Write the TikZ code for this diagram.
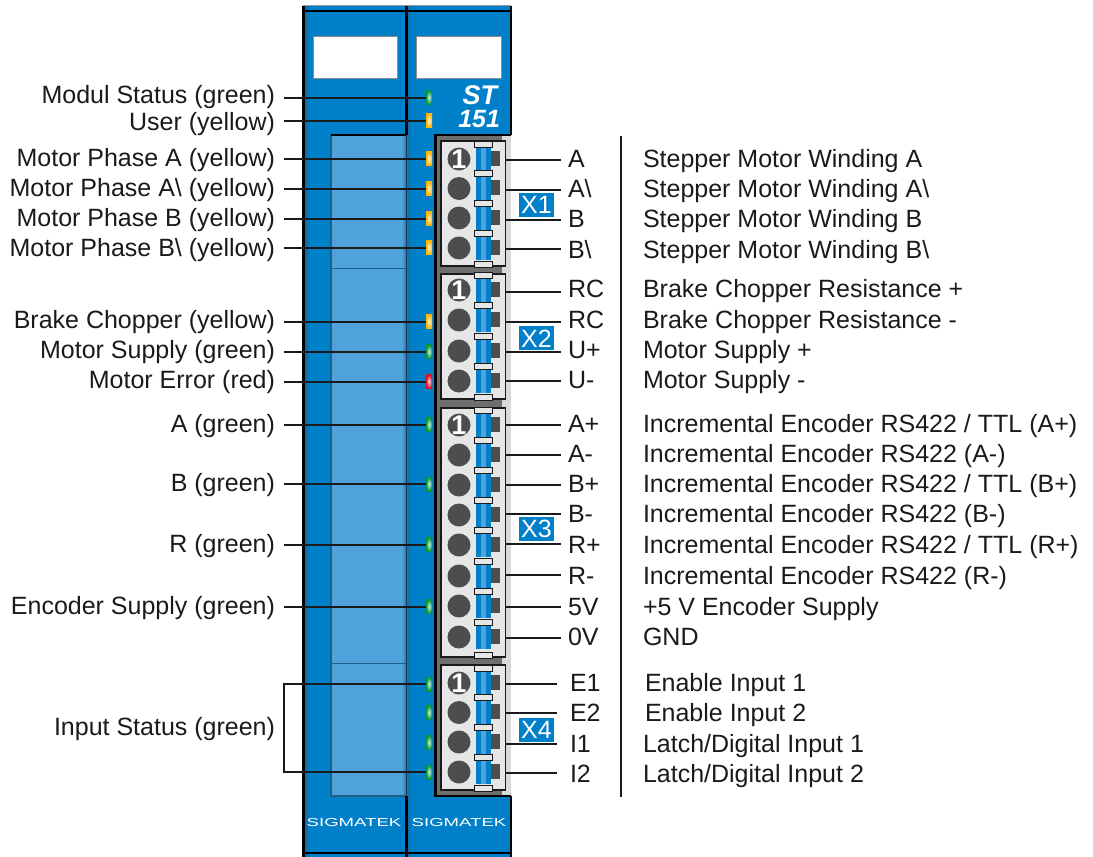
\documentclass[tikz,border=0pt]{standalone}
\usepackage{fontspec}
\usepackage{graphicx}
\setmainfont{Liberation Sans}
\definecolor{modblue}{HTML}{0080C8}
\definecolor{winblue}{HTML}{4FA3DA}
\definecolor{edgeblue}{HTML}{1F5F8C}
\definecolor{softblue}{HTML}{1070AC}
\definecolor{ledg}{HTML}{009640}
\definecolor{ledy}{HTML}{FFB400}
\definecolor{ledr}{HTML}{E30A24}
\definecolor{pingray}{HTML}{4D4D4D}
\definecolor{plugfill}{HTML}{E6E6E6}
\definecolor{railgray}{HTML}{6E6E6E}
\definecolor{sidegray}{HTML}{D9D9D9}
\definecolor{inkblack}{HTML}{1A1A1A}

\begin{document}
\begin{tikzpicture}[
  x=1pt, y=-1pt,
  every node/.style={inner sep=0pt, outer sep=0pt},
  txt/.style={font=\fontsize{25}{30}\selectfont, text=inkblack, yshift=-1pt},
  led/.style={
    rectangle, minimum width=6pt, minimum height=14pt,
    shade, inner color=white!85!#1, outer color=#1
  },
  wire/.style={draw=inkblack, line width=2pt},
  plug/.style={
    rectangle, draw=inkblack, fill=plugfill, line width=1.5pt,
    minimum width=64.5pt
  },
  pin/.style={circle, fill=pingray, minimum size=23pt},
  bar/.style={rectangle, fill=modblue, minimum width=15pt, minimum height=24pt},
  barmid/.style={rectangle, fill=winblue, minimum width=5pt, minimum height=24pt},
  lug/.style={rectangle, fill=pingray, minimum width=9pt, minimum height=15pt},
  tab/.style={
    rectangle, draw=inkblack, fill=plugfill, line width=1pt,
    minimum width=18pt, minimum height=6pt
  },
  tag/.style={
    rectangle, fill=modblue, text=white, minimum width=35pt, minimum height=24pt,
    font=\fontsize{25}{30}\selectfont
  },
  logo/.style={text=white, font=\fontsize{11.6}{14}\selectfont, anchor=base},
  labelbox/.style={draw=black!45, fill=white, line width=.8pt}
]
  \useasboundingbox (0,0) rectangle (1093,857);
  \fill[modblue] (303,6) rectangle (511,857);
  \shade[left color=edgeblue, right color=modblue] (304,6) rectangle (309,857);
  \shade[left color=softblue, right color=modblue] (408,6) rectangle (411,857);
  \fill[winblue] (331,135) rectangle (406,796);
  \shade[left color=winblue, right color=edgeblue!70!winblue] (402,135) rectangle (406,796);
  \draw[edgeblue, line width=1pt] (331,268) -- (406,268);
  \draw[edgeblue, line width=1pt] (331,663) -- (406,663);
  \draw[edgeblue, line width=1.5pt] (331,135) -- (331,796) -- (406,796);
  \draw[labelbox] (313,36) rectangle (397,78);
  \draw[labelbox] (416,36) rectangle (501,78);
  \draw[black!40, line width=.8pt] (303,5.5) -- (511,5.5);
  \draw[black, line width=2pt] (303,10.5) -- (511,10.5);
  \draw[black, line width=2pt] (303,852.5) -- (511,852.5);
  \draw[black, line width=3pt] (303,6) -- (303,857);
  \draw[black, line width=1.5pt] (511,6) -- (511,135);
  \draw[black, line width=1.5pt] (511,796) -- (511,857);
  \draw[black, line width=3pt] (406.5,6) -- (406.5,135);
  \draw[edgeblue!60!black, line width=1.5pt] (406.5,135) -- (406.5,796);
  \draw[black, line width=3pt] (406.5,796) -- (406.5,857);
  \draw[black, line width=1.5pt] (331,135) -- (406,135);
  \fill[sidegray] (501,135) rectangle (511,796);
  \fill[railgray] (436,135) rectangle (501.5,796);
  \draw[black, line width=2.5pt] (501.5,135) -- (435.5,135) -- (435.5,796) -- (511,796);
  \draw[black, line width=1.5pt] (501.5,135) -- (511,135);

  \node[anchor=base east, text=white, font=\fontsize{27}{30}\bfseries\itshape\selectfont] (st) at (497,104) {ST};
  \node[anchor=base east, text=white, font=\fontsize{25}{28}\bfseries\itshape\selectfont] (num) at (500,127) {151};
  \node[logo] (logoa) at (354,826.5) {\scalebox{1.6}[1]{SIGMATEK}};
  \node[logo] (logob) at (459,826.5) {\scalebox{1.6}[1]{SIGMATEK}};

  \foreach \n/\y/\yt/\col/\t in {
    1/97.5/102.7/ledg/{Modul Status (green)},
    2/120.5/129/ledy/{User (yellow)},
    3/158.5/165/ledy/{Motor Phase A (yellow)},
    4/188.5/195.7/ledy/{Motor Phase A\textbackslash{} (yellow)},
    5/218.5/225/ledy/{Motor Phase B (yellow)},
    6/247.5/255/ledy/{Motor Phase B\textbackslash{} (yellow)},
    7/321.5/327/ledy/{Brake Chopper (yellow)},
    8/351.5/357.7/ledg/{Motor Supply (green)},
    9/381.5/387.3/ledr/{Motor Error (red)},
    10/424.5/431/ledg/{A (green)},
    11/484/490.7/ledg/{B (green)},
    12/544.5/551.7/ledg/{R (green)},
    13/606.5/613.3/ledg/{Encoder Supply (green)}
  } {
    \node[led=\col] (led\n) at (429,\y){};
    \coordinate (from\n) at (284,\y);
    \draw[wire] (from\n)--(led\n.west);
    \node[txt, anchor=base east] (name\n) at (275,\yt){\t};
  }
  \node[led=ledg] (led14) at (429,684){};
  \node[led=ledg] (led15) at (429,712.5){};
  \node[led=ledg] (led16) at (429,742.5){};
  \node[led=ledg] (led17) at (429,772){};
  \coordinate (from14) at (284,684);
  \coordinate (from17) at (284,772);
  \draw[wire] (led14.west)--(from14)--(from17)--(led17.west);
  \node[txt, anchor=base east] (name14) at (275,734.3){Input Status (green)};

  \foreach \k/\y/\h/\yend in {
    1/203.5/125/264,
    2/336.5/125/397,
    3/532.5/249/655,
    4/727.5/125/788
  } {
    \node[plug, minimum height=\h pt] (con\k) at (473,\y){};
    \node[tab] (end\k) at (483,\yend){};
  }
  \foreach \n/\y in {
    1/159,2/188.5,3/218,4/248,5/290,6/320,7/351,8/381,
    9/425,10/455,11/485,12/515,13/545,14/576,15/606,16/637,
    17/683,18/712.5,19/742,20/772
  } {
    \node[pin] (pin\n) at (459,\y){};
    \node[bar] (bar\n) at (483.5,\y){};
    \node[barmid] (mid\n) at (483.5,\y){};
    \node[lug] (lug\n) at (495.5,\y-1){};
    \node[tab] (tab\n) at (483,\y-15){};
  }
  \foreach \n in {1,5,9,17} {
    \node[text=white, font=\fontsize{27}{30}\bfseries\selectfont] (one\n) at (pin\n){1};
  }

  \foreach \n/\k/\yl/\yt/\lab/\desc in {
    1/1/160/166.7/A/{Stepper Motor Winding A},
    2/1/190/196.7/A\textbackslash/{Stepper Motor Winding A\textbackslash},
    3/1/220/226.7/B/{Stepper Motor Winding B},
    4/1/249/257/B\textbackslash/{Stepper Motor Winding B\textbackslash},
    5/2/292/296.7/RC/{Brake Chopper Resistance +},
    6/2/322/327/RC/{Brake Chopper Resistance -},
    7/2/352/357/U+/{Motor Supply +},
    8/2/381/387/U-/{Motor Supply -},
    9/3/425/431/A+/{Incremental Encoder RS422 / TTL (A+)},
    10/3/455/461/A-/{Incremental Encoder RS422 (A-)},
    11/3/485/491.5/B+/{Incremental Encoder RS422 / TTL (B+)},
    12/3/514/521.7/B-/{Incremental Encoder RS422 (B-)},
    13/3/544/552/R+/{Incremental Encoder RS422 / TTL (R+)},
    14/3/575/583/R-/{Incremental Encoder RS422 (R-)},
    15/3/607/614/5V/{+5 V Encoder Supply},
    16/3/638/644/0V/{GND}
  } {
    \coordinate (out\n) at (561,\yl);
    \draw[wire] (con\k.east |- out\n)--(out\n);
    \node[txt, anchor=base west] (lab\n) at (568,\yt){\lab};
    \node[txt, anchor=base west] (desc\n) at (643,\yt){\desc};
  }
  \foreach \n/\yl/\yt/\xd/\lab/\desc in {
    17/684/690/645/E1/{Enable Input 1},
    18/713/720/645/E2/{Enable Input 2},
    19/744/751/643/I1/{Latch/Digital Input 1},
    20/773/781.7/643/I2/{Latch/Digital Input 2}
  } {
    \coordinate (out\n) at (557,\yl);
    \draw[wire] (con4.east |- out\n)--(out\n);
    \node[txt, anchor=base west] (lab\n) at (570,\yt){\lab};
    \node[txt, anchor=base west] (desc\n) at (\xd,\yt){\desc};
  }
  \foreach \k/\y in {1/204.7,2/338.3,3/528.7,4/730} {
    \node[tag] (x\k) at (536.5,\y){X\k};
  }
  \coordinate (divtop) at (621,136);
  \coordinate (divbot) at (621,797);
  \draw[inkblack, line width=1.5pt] (divtop)--(divbot);
\end{tikzpicture}
\end{document}
